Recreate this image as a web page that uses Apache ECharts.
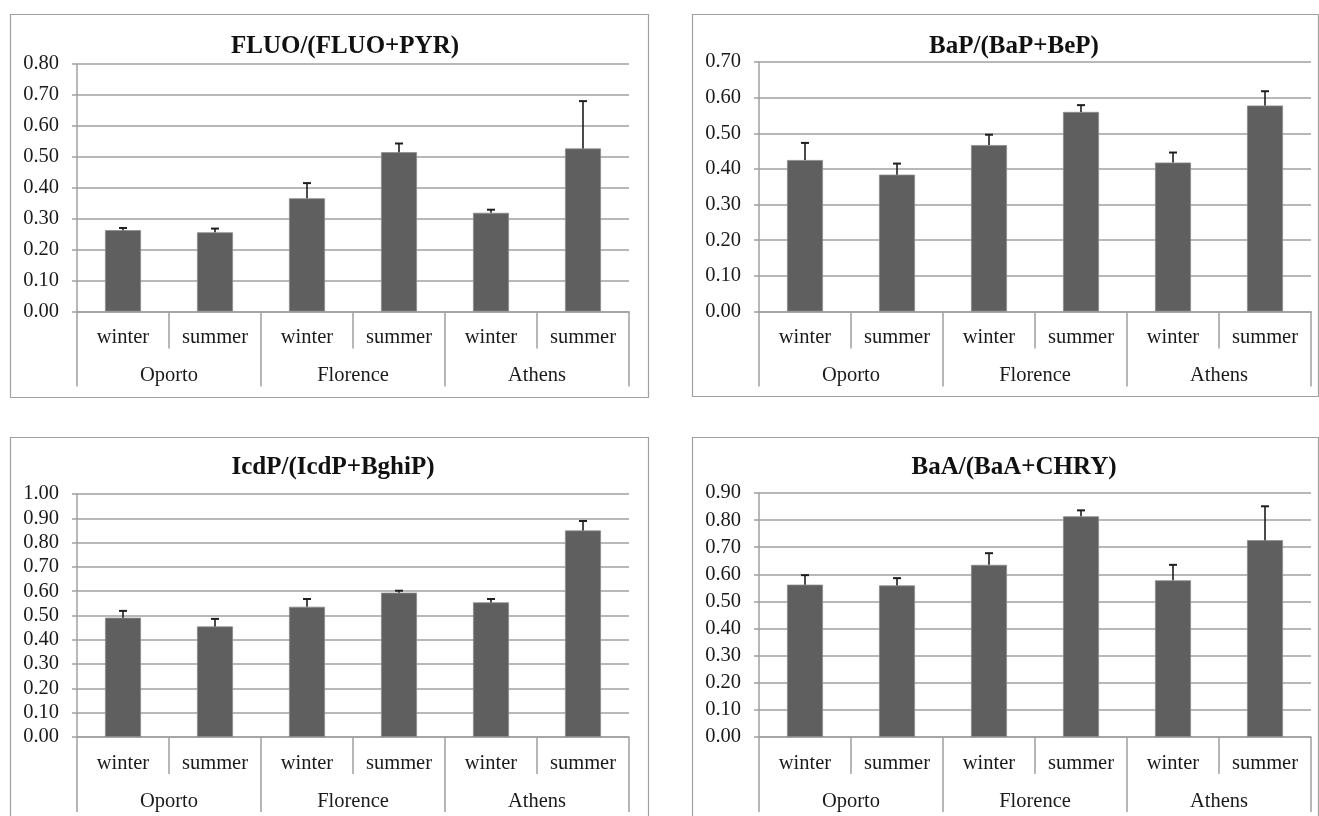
<!DOCTYPE html>
<html>
<head>
<meta charset="utf-8">
<script src="https://cdn.jsdelivr.net/npm/echarts@6/dist/echarts.min.js"></script>
<style>
html,body{margin:0;padding:0;background:#fff;}
#chart{width:1319px;height:816px;}
</style>
</head>
<body>
<div id="chart"></div>
<script>
// ---- data ----
var seasons = ['winter', 'summer', 'winter', 'summer', 'winter', 'summer'];
var cities = ['Oporto', 'Florence', 'Athens'];
var titles = ['FLUO/(FLUO+PYR)', 'BaP/(BaP+BeP)', 'IcdP/(IcdP+BghiP)', 'BaA/(BaA+CHRY)'];
var yMax = [0.8, 0.7, 1.0, 0.9];

var fluoMean = [0.263, 0.256, 0.366, 0.515, 0.319, 0.527];
var fluoErr  = [0.007, 0.012, 0.049, 0.028, 0.010, 0.153];
var bapMean  = [0.425, 0.384, 0.467, 0.560, 0.418, 0.578];
var bapErr   = [0.048, 0.031, 0.029, 0.019, 0.028, 0.040];
var icdpMean = [0.491, 0.455, 0.536, 0.594, 0.554, 0.850];
var icdpErr  = [0.028, 0.031, 0.032, 0.008, 0.014, 0.039];
var baaMean  = [0.562, 0.559, 0.635, 0.814, 0.578, 0.726];
var baaErr   = [0.035, 0.027, 0.043, 0.022, 0.057, 0.125];

var means = [fluoMean, bapMean, icdpMean, baaMean];
var errs = [fluoErr, bapErr, icdpErr, baaErr];

// ---- layout ----
var FONT = '"Liberation Serif", "Times New Roman", serif';
var GRAY = '#a0a0a0';
var grids = [
  {left: 77, top: 64, width: 552, height: 247.5},
  {left: 759, top: 62, width: 552, height: 249.5},
  {left: 77, top: 494, width: 552, height: 243},
  {left: 759, top: 493, width: 552, height: 244}
];
var boxes = [
  {x: 10.5, y: 14.5, w: 638, h: 383},
  {x: 692.5, y: 14.5, w: 626, h: 382},
  {x: 10.5, y: 437.5, w: 638, h: 400},
  {x: 692.5, y: 437.5, w: 626, h: 400}
];
var titlePos = [[345, 47], [1014, 47], [333, 468], [1014, 468]];

var option = {
  animation: false,
  backgroundColor: '#ffffff',
  grid: [], xAxis: [], yAxis: [], series: [], graphic: []
};

for (var k = 0; k < 4; k++) {
  var g = grids[k];
  option.grid.push({left: g.left, top: g.top, width: g.width, height: g.height, containLabel: false});
  // season axis
  option.xAxis.push({
    type: 'category', gridIndex: k, data: seasons, position: 'bottom',
    axisLine: {show: true, lineStyle: {color: GRAY, width: 1.5}},
    axisTick: {show: true, interval: 0, length: 37, lineStyle: {color: GRAY, width: 1.5}},
    axisLabel: {interval: 0, margin: 16, fontFamily: FONT, fontSize: 20.5, color: '#1a1a1a'},
    splitLine: {show: false}
  });
  // city axis
  option.xAxis.push({
    type: 'category', gridIndex: k, data: cities, position: 'bottom',
    axisLine: {show: false},
    axisTick: {show: true, interval: 0, length: 75, lineStyle: {color: GRAY, width: 1.5}},
    axisLabel: {interval: 0, margin: 54, fontFamily: FONT, fontSize: 20.5, color: '#1a1a1a'},
    splitLine: {show: false}
  });
  option.yAxis.push({
    type: 'value', gridIndex: k, min: 0, max: yMax[k], interval: 0.1,
    axisLine: {show: true, lineStyle: {color: GRAY, width: 1.5}},
    axisTick: {show: true, length: 5, lineStyle: {color: GRAY, width: 1.5}},
    axisLabel: {margin: 18, fontFamily: FONT, fontSize: 20.5, color: '#1a1a1a',
      formatter: function (v) { return v.toFixed(2); }},
    splitLine: {show: true, lineStyle: {color: GRAY, width: 1.5}}
  });
  option.series.push({
    type: 'bar', xAxisIndex: 2 * k, yAxisIndex: k, data: means[k], barWidth: 36,
    itemStyle: {color: '#5f5f5f', borderColor: '#8c8c8c', borderWidth: 0.8},
    z: 2
  });
  (function (kk) {
    option.series.push({
      type: 'custom', xAxisIndex: 2 * kk, yAxisIndex: kk, z: 5,
      data: means[kk].map(function (m, i) { return [i, m, errs[kk][i]]; }),
      encode: {x: 0, y: 1},
      renderItem: function (params, api) {
        var x = api.value(0), v = api.value(1), e = api.value(2);
        var p0 = api.coord([x, v]);
        var p1 = api.coord([x, v + e]);
        var hw = 4;
        return {
          type: 'group',
          children: [
            {type: 'line', shape: {x1: p0[0], y1: p0[1], x2: p1[0], y2: p1[1]},
              style: {stroke: '#1e1e1e', lineWidth: 1.6}},
            {type: 'line', shape: {x1: p1[0] - hw, y1: p1[1], x2: p1[0] + hw, y2: p1[1]},
              style: {stroke: '#1e1e1e', lineWidth: 2}}
          ]
        };
      }
    });
  })(k);
  var b = boxes[k];
  option.graphic.push({
    type: 'rect', shape: {x: b.x, y: b.y, width: b.w, height: b.h}, silent: true, z: -1,
    style: {fill: 'none', stroke: GRAY, lineWidth: 1.2}
  });
  option.graphic.push({
    type: 'text', x: titlePos[k][0], y: titlePos[k][1], silent: true,
    style: {text: titles[k], font: 'bold 25px ' + FONT, fill: '#111',
      textAlign: 'center', textVerticalAlign: 'middle'}
  });
}

var chart = echarts.init(document.getElementById('chart'), null, {renderer: 'canvas'});
chart.setOption(option);
</script>
</body>
</html>
